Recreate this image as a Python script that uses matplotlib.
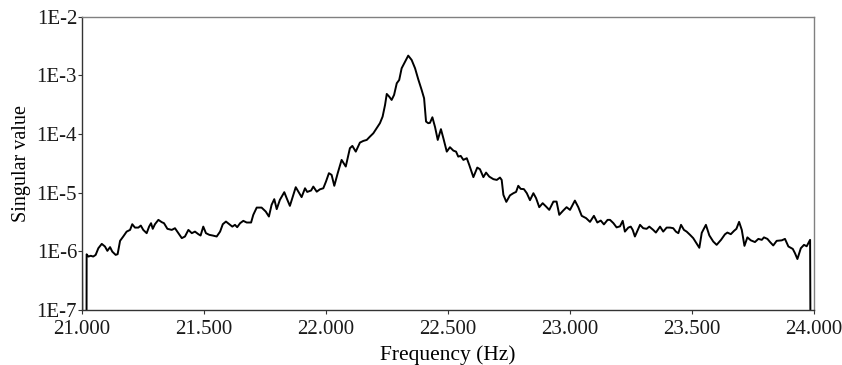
import matplotlib
matplotlib.use("Agg")
import matplotlib.pyplot as plt
from matplotlib.ticker import FixedLocator, NullLocator

plt.rcParams['font.family'] = ['Liberation Serif', 'DejaVu Serif']

freq = [21.000, 21.003, 21.018, 21.019, 21.026, 21.036, 21.046, 21.056, 21.067, 21.081,
        21.094, 21.104, 21.115, 21.124, 21.138, 21.146, 21.156, 21.169, 21.183, 21.197,
        21.206, 21.217, 21.231, 21.241, 21.251, 21.265, 21.275, 21.283, 21.290, 21.299,
        21.313, 21.327, 21.336, 21.350, 21.368, 21.381, 21.395, 21.409, 21.422, 21.436,
        21.450, 21.463, 21.477, 21.486, 21.497, 21.508, 21.522, 21.536, 21.552, 21.566,
        21.577, 21.590, 21.604, 21.616, 21.627, 21.636, 21.648, 21.661, 21.675, 21.693,
        21.702, 21.716, 21.736, 21.753, 21.766, 21.777, 21.788, 21.798, 21.811, 21.829,
        21.840, 21.852, 21.876, 21.885, 21.900, 21.914, 21.923, 21.939, 21.948, 21.962,
        21.975, 21.989, 22.000, 22.012, 22.023, 22.034, 22.048, 22.064, 22.081, 22.098,
        22.108, 22.122, 22.139, 22.153, 22.167, 22.180, 22.194, 22.208, 22.221, 22.232,
        22.242, 22.249, 22.259, 22.269, 22.279, 22.290, 22.300, 22.310, 22.324, 22.337,
        22.351, 22.365, 22.378, 22.392, 22.402, 22.410, 22.419, 22.426, 22.436, 22.447,
        22.458, 22.471, 22.481, 22.495, 22.508, 22.522, 22.533, 22.542, 22.552, 22.563,
        22.577, 22.587, 22.604, 22.620, 22.631, 22.645, 22.656, 22.669, 22.686, 22.700,
        22.713, 22.720, 22.727, 22.739, 22.754, 22.768, 22.779, 22.788, 22.798, 22.811,
        22.823, 22.836, 22.850, 22.861, 22.874, 22.888, 22.902, 22.915, 22.932, 22.945,
        22.956, 22.972, 22.986, 23.000, 23.020, 23.034, 23.048, 23.066, 23.082, 23.098,
        23.112, 23.126, 23.139, 23.154, 23.164, 23.178, 23.191, 23.205, 23.216, 23.225,
        23.239, 23.249, 23.257, 23.266, 23.287, 23.300, 23.314, 23.325, 23.341, 23.352,
        23.369, 23.382, 23.396, 23.410, 23.423, 23.434, 23.444, 23.455, 23.467, 23.478,
        23.492, 23.505, 23.516, 23.530, 23.540, 23.557, 23.571, 23.587, 23.601, 23.619,
        23.635, 23.645, 23.659, 23.672, 23.682, 23.693, 23.704, 23.715, 23.727, 23.741,
        23.758, 23.772, 23.786, 23.795, 23.809, 23.820, 23.833, 23.847, 23.868, 23.881,
        23.895, 23.913, 23.922, 23.932, 23.946, 23.959, 23.970, 23.984, 23.987]

singular = [1.38e-6, 1e-9, 1e-9, 8.9e-7, 8.15e-7, 8.4e-7, 8.15e-7, 8.7e-7, 1.13e-6, 1.34e-6,
            1.21e-6, 1.02e-6, 1.18e-6, 9.9e-7, 8.7e-7, 8.95e-7, 1.51e-6, 1.79e-6, 2.17e-6, 2.32e-6,
            2.9e-6, 2.54e-6, 2.54e-6, 2.75e-6, 2.32e-6, 2.04e-6, 2.64e-6, 3.02e-6, 2.42e-6, 2.9e-6,
            3.44e-6, 3.14e-6, 3.02e-6, 2.42e-6, 2.32e-6, 2.48e-6, 2.04e-6, 1.68e-6, 1.79e-6, 2.32e-6,
            2.04e-6, 2.17e-6, 1.96e-6, 1.86e-6, 2.64e-6, 2.04e-6, 1.91e-6, 1.86e-6, 1.79e-6, 2.17e-6,
            2.9e-6, 3.22e-6, 2.9e-6, 2.64e-6, 2.83e-6, 2.58e-6, 3.02e-6, 3.31e-6, 3.1e-6, 3.1e-6,
            4.19e-6, 5.57e-6, 5.57e-6, 4.77e-6, 3.92e-6, 6.2e-6, 7.75e-6, 5.24e-6, 7.54e-6, 1.02e-5,
            7.84e-6, 5.96e-6, 1.24e-5, 1.07e-5, 8.4e-6, 1.19e-5, 1.03e-5, 1.09e-5, 1.27e-5, 1.04e-5,
            1.14e-5, 1.19e-5, 1.55e-5, 2.15e-5, 2.01e-5, 1.31e-5, 2.15e-5, 3.62e-5, 2.79e-5, 5.73e-5,
            6.27e-5, 5.01e-5, 7.14e-5, 7.63e-5, 7.93e-5, 9.03e-5, 1.03e-4, 1.26e-4, 1.53e-4, 1.98e-4,
            3.13e-4, 4.82e-4, 4.34e-4, 3.81e-4, 4.64e-4, 7.33e-4, 8.35e-4, 1.32e-3, 1.71e-3, 2.17e-3,
            1.83e-3, 1.32e-3, 8.59e-4, 5.64e-4, 4.07e-4, 1.63e-4, 1.53e-4, 1.55e-4, 1.93e-4, 1.31e-4,
            7.93e-5, 1.21e-4, 8.48e-5, 5.01e-5, 5.96e-5, 5.21e-5, 5.01e-5, 4.12e-5, 4.24e-5, 3.62e-5,
            3.87e-5, 2.98e-5, 1.84e-5, 2.68e-5, 2.51e-5, 1.84e-5, 2.2e-5, 1.88e-5, 1.7e-5, 1.65e-5,
            1.81e-5, 1.65e-5, 9.18e-6, 6.97e-6, 9.0e-6, 9.8e-6, 1.03e-5, 1.31e-5, 1.16e-5, 1.15e-5,
            9.8e-6, 7.45e-6, 9.8e-6, 8.06e-6, 5.66e-6, 6.62e-6, 5.8e-6, 5.09e-6, 7.05e-6, 7.05e-6,
            4.19e-6, 4.95e-6, 5.66e-6, 5.09e-6, 7.33e-6, 5.66e-6, 4.03e-6, 3.68e-6, 3.18e-6, 4.03e-6,
            3.1e-6, 3.35e-6, 2.88e-6, 3.44e-6, 3.44e-6, 3.02e-6, 2.56e-6, 2.67e-6, 3.31e-6, 2.17e-6,
            2.54e-6, 2.64e-6, 2.32e-6, 1.79e-6, 2.83e-6, 2.48e-6, 2.42e-6, 2.64e-6, 2.32e-6, 2.09e-6,
            2.64e-6, 2.17e-6, 2.54e-6, 2.54e-6, 2.48e-6, 2.17e-6, 2.04e-6, 2.83e-6, 2.32e-6, 2.17e-6,
            1.91e-6, 1.68e-6, 1.42e-6, 1.15e-6, 2.07e-6, 2.83e-6, 1.87e-6, 1.47e-6, 1.29e-6, 1.57e-6,
            1.95e-6, 2.09e-6, 1.96e-6, 2.23e-6, 2.42e-6, 3.18e-6, 2.32e-6, 1.24e-6, 1.73e-6, 1.54e-6,
            1.44e-6, 1.63e-6, 1.57e-6, 1.73e-6, 1.63e-6, 1.44e-6, 1.26e-6, 1.51e-6, 1.54e-6, 1.63e-6,
            1.21e-6, 1.1e-6, 9.3e-7, 7.4e-7, 1.13e-6, 1.29e-6, 1.22e-6, 1.57e-6, 1e-9]

x_ticks = [21.0, 21.5, 22.0, 22.5, 23.0, 23.5, 24.0]
x_labels = ["21.000", "21.500", "22.000", "22.500", "23.000", "23.500", "24.000"]
y_ticks = [1e-7, 1e-6, 1e-5, 1e-4, 1e-3, 1e-2]
y_labels = ["1E-7", "1E-6", "1E-5", "1E-4", "1E-3", "1E-2"]

fig = plt.figure(figsize=(8.42, 3.65), dpi=100)
ax = fig.add_axes([82 / 842, 1 - 310 / 365, (814 - 82) / 842, (310 - 16.7) / 365])

ax.plot(freq, singular, color='black', linewidth=1.4)
ax.set_yscale('log')
ax.set_xlim(21.0, 24.0)
ax.set_ylim(1e-7, 1e-2)

ax.xaxis.set_major_locator(FixedLocator(x_ticks))
ax.set_xticklabels(x_labels)
ax.yaxis.set_major_locator(FixedLocator(y_ticks))
ax.set_yticklabels(y_labels)
ax.yaxis.set_minor_locator(NullLocator())
ax.xaxis.set_minor_locator(NullLocator())

ax.tick_params(axis='both', direction='out', length=3, width=0.8, color='#333333',
               labelsize=15, labelcolor='#1a1a1a')
ax.tick_params(axis='y', pad=0.5)
ax.tick_params(axis='x', pad=4.5)

for side in ['left', 'bottom']:
    ax.spines[side].set_color('#333333')
    ax.spines[side].set_linewidth(1.0)
for side in ['top', 'right']:
    ax.spines[side].set_color('#808080')
    ax.spines[side].set_linewidth(1.0)

ax.set_xlabel("Frequency (Hz)", fontsize=15.5, labelpad=4)
ax.set_ylabel("Singular value", fontsize=14.5, labelpad=4)

fig.savefig("out.png", dpi=100)
